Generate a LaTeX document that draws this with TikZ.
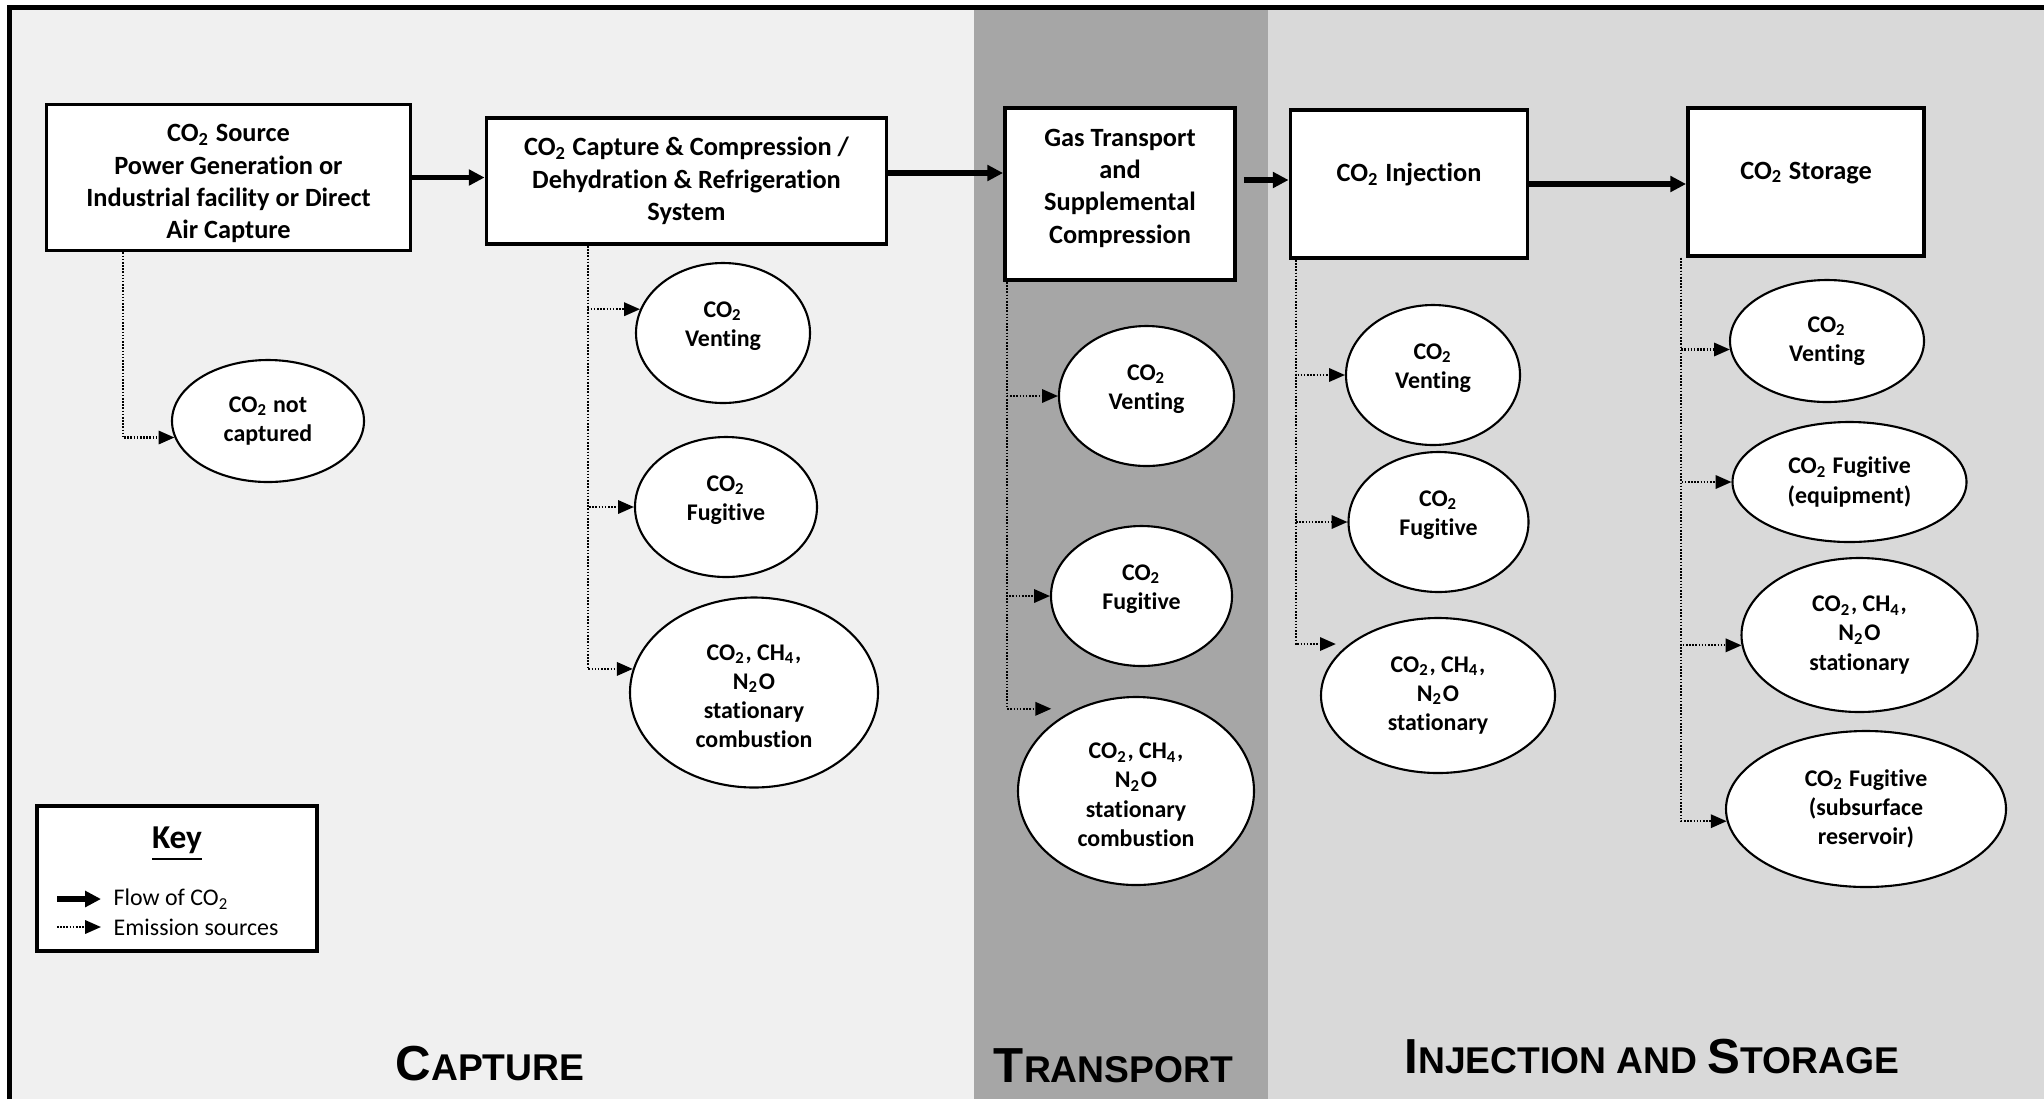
\documentclass[tikz,border=0pt]{standalone}
\usepackage{fontspec}
\setmainfont{Carlito}[Ligatures=NoCommon]
\newfontfamily\secfont{Liberation Sans}
\usetikzlibrary{arrows.meta,shapes.geometric}

\newcommand{\COtwo}{CO\textsubscript{2}}
\newcommand{\CHfour}{CH\textsubscript{4}}
\newcommand{\NtwoO}{N\textsubscript{2}O}
\newcommand{\seclabel}[2]{{\secfont\bfseries\fontsize{14}{14}\selectfont #1\fontsize{10.6}{10.6}\selectfont #2}}

\definecolor{capbg}{HTML}{F0F0F0}
\definecolor{trnbg}{HTML}{A6A6A6}
\definecolor{injbg}{HTML}{D9D9D9}

\tikzset{
    stagebox/.style={draw, line width=1.1pt, fill=white, align=center, inner sep=2pt,
        font=\bfseries\fontsize{7.5}{9.2}\selectfont},
    emisnode/.style={ellipse, draw, line width=0.6pt, fill=white, align=center, inner sep=0pt,
        font=\bfseries\fontsize{6.8}{8.3}\selectfont},
    twoline/.style={text depth=5.2pt},
    fourline/.style={text height=31.5pt},
    flowarrow/.style={line width=1.7pt, -{Triangle[length=4.5pt,width=4.4pt]}},
    emisarrow/.style={line width=0.6pt, dash pattern=on 0.45pt off 0.45pt, -{Triangle[length=4.5pt,width=3.8pt]}},
}

\begin{document}
\begin{tikzpicture}
    \useasboundingbox (0,0) rectangle (20.44,-10.99);

    % Fondos
    \fill[capbg] (0.095,-0.075) rectangle (9.74,-10.99);
    \fill[trnbg] (9.74,-0.075) rectangle (12.68,-10.99);
    \fill[injbg] (12.68,-0.075) rectangle (20.44,-10.99);
    % Marco
    \draw[black, line width=1.4pt] (0.095,-10.99) -- (0.095,-0.075) -- (20.44,-0.075);

    % Etapas
    \node[stagebox, minimum width=3.64cm, minimum height=1.46cm, text height=36.1pt] (src) at (2.285,-1.775)
        {\COtwo{} Source\\Power Generation or\\Industrial facility or Direct\\Air Capture};
    \node[stagebox, minimum width=4.00cm, minimum height=1.26cm] (cap) at (6.865,-1.81)
        {\COtwo{} Capture \& Compression /\\Dehydration \& Refrigeration\\System};
    \node[stagebox, minimum width=2.30cm, minimum height=1.72cm, text depth=4.5pt] (gas) at (11.20,-1.94)
        {Gas Transport\\and\\Supplemental\\Compression};
    \node[stagebox, minimum width=2.37cm, minimum height=1.48cm, text depth=6.5pt] (inj) at (14.09,-1.84)
        {\COtwo{} Injection};
    \node[stagebox, minimum width=2.36cm, minimum height=1.48cm, text depth=6.5pt] (sto) at (18.06,-1.82)
        {\COtwo{} Storage};

    % Flujo de CO2
    \draw[flowarrow] (src.east) -- (src.east -| cap.west);
    \draw[flowarrow] ([yshift=0.08cm]cap.east) -- ([yshift=0.08cm]cap.east -| gas.west);
    \draw[flowarrow] ([shift={(0.07cm,0.04cm)}]inj.west -| gas.east) -- ([yshift=0.04cm]inj.west);
    \draw[flowarrow] (inj.east) -- (inj.east -| sto.west);

    % Fuentes de emision
    % Captura
    \node[emisnode, minimum width=1.92cm, minimum height=1.22cm] (nc) at (2.68,-4.21) {\COtwo{} not\\captured};
    \node[emisnode, twoline, minimum width=1.74cm, minimum height=1.40cm] (capv) at (7.23,-3.33) {\COtwo\\Venting};
    \node[emisnode, twoline, minimum width=1.82cm, minimum height=1.40cm] (capf) at (7.26,-5.07) {\COtwo\\Fugitive};
    \node[emisnode, fourline, minimum width=2.48cm, minimum height=1.90cm] (capc) at (7.54,-6.925)
        {\COtwo, \CHfour,\\\NtwoO\\stationary\\combustion};
    % Transporte
    \node[emisnode, twoline, minimum width=1.75cm, minimum height=1.40cm] (gasv) at (11.465,-3.96) {\COtwo\\Venting};
    \node[emisnode, twoline, minimum width=1.81cm, minimum height=1.40cm] (gasf) at (11.415,-5.96) {\COtwo\\Fugitive};
    \node[emisnode, fourline, minimum width=2.36cm, minimum height=1.88cm] (gasc) at (11.36,-7.91)
        {\COtwo, \CHfour,\\\NtwoO\\stationary\\combustion};
    % Inyeccion
    \node[emisnode, twoline, minimum width=1.74cm, minimum height=1.40cm] (injv) at (14.33,-3.75) {\COtwo\\Venting};
    \node[emisnode, twoline, minimum width=1.80cm, minimum height=1.40cm] (injf) at (14.385,-5.22) {\COtwo\\Fugitive};
    \node[emisnode, minimum width=2.34cm, minimum height=1.55cm] (injs) at (14.38,-6.955)
        {\COtwo, \CHfour,\\\NtwoO\\stationary};
    % Almacenamiento
    \node[emisnode, minimum width=1.94cm, minimum height=1.22cm] (stov) at (18.27,-3.41) {\COtwo\\Venting};
    \node[emisnode, minimum width=2.34cm, minimum height=1.20cm] (stof) at (18.495,-4.82)
        {\COtwo{} Fugitive\\(equipment)};
    \node[emisnode, minimum width=2.36cm, minimum height=1.54cm] (stos) at (18.595,-6.35)
        {\COtwo, \CHfour,\\\NtwoO\\stationary};
    \node[emisnode, minimum width=2.80cm, minimum height=1.56cm] (stor) at (18.66,-8.09)
        {\COtwo{} Fugitive\\(subsurface\\reservoir)};

    % Lineas punteadas
    \draw[emisarrow] ([xshift=0.78cm]src.south west) |- (nc.190);
    \draw[emisarrow] ([xshift=1.03cm]cap.south west) |- (capv.164);
    \draw[emisarrow] ([xshift=1.03cm]cap.south west) |- (capf.west);
    \draw[emisarrow] ([xshift=1.03cm]cap.south west) |- (capc.169);
    \draw[emisarrow] ([xshift=0.04cm]gas.south west) |- (gasv.west);
    \draw[emisarrow] ([xshift=0.04cm]gas.south west) |- (gasf.west);
    \draw[emisarrow] ([xshift=0.04cm]gas.south west) |- ([xshift=-0.25cm]gasc.126);
    \draw[emisarrow] ([xshift=0.07cm]inj.south west) |- (injv.west);
    \draw[emisarrow] ([xshift=0.07cm]inj.south west) |- (injf.west);
    \draw[emisarrow] ([xshift=0.07cm]inj.south west) |- ([xshift=-0.13cm]injs.150);
    \draw[emisarrow] ([xshift=-0.05cm]sto.south west) |- (stov.185);
    \draw[emisarrow] ([xshift=-0.05cm]sto.south west) |- (stof.west);
    \draw[emisarrow] ([xshift=-0.05cm]sto.south west) |- (stos.185);
    \draw[emisarrow] ([xshift=-0.05cm]sto.south west) |- (stor.185);

    % Leyenda
    \node[draw, line width=1pt, fill=white, minimum width=2.80cm, minimum height=1.45cm] (key) at (1.77,-8.785) {};
    \node[font=\bfseries\fontsize{9.5}{11}\selectfont] (keytitle) at (1.77,-8.44) {\underline{Key}};
    \node[anchor=west, inner sep=0pt, font=\fontsize{6.8}{8}\selectfont] (flowtxt) at (1.13,-8.99) {Flow of \COtwo};
    \node[anchor=west, inner sep=0pt, font=\fontsize{6.8}{8}\selectfont] (emistxt) at (1.13,-9.27) {Emission sources};
    \draw[flowarrow, line width=1.5pt] ([xshift=-0.56cm]flowtxt.west) -- ([xshift=-0.12cm]flowtxt.west);
    \draw[emisarrow] ([xshift=-0.56cm]emistxt.west) -- ([xshift=-0.12cm]emistxt.west);

    % Etiquetas de etapa
    \node[anchor=base] (lcap) at (4.90,-10.80) {\seclabel{C}{APTURE}};
    \node[anchor=base] (ltrn) at (11.135,-10.82) {\seclabel{T}{RANSPORT}};
    \node[anchor=base] (linj) at (16.52,-10.73) {\seclabel{I}{NJECTION AND }\seclabel{S}{TORAGE}};
\end{tikzpicture}
\end{document}
